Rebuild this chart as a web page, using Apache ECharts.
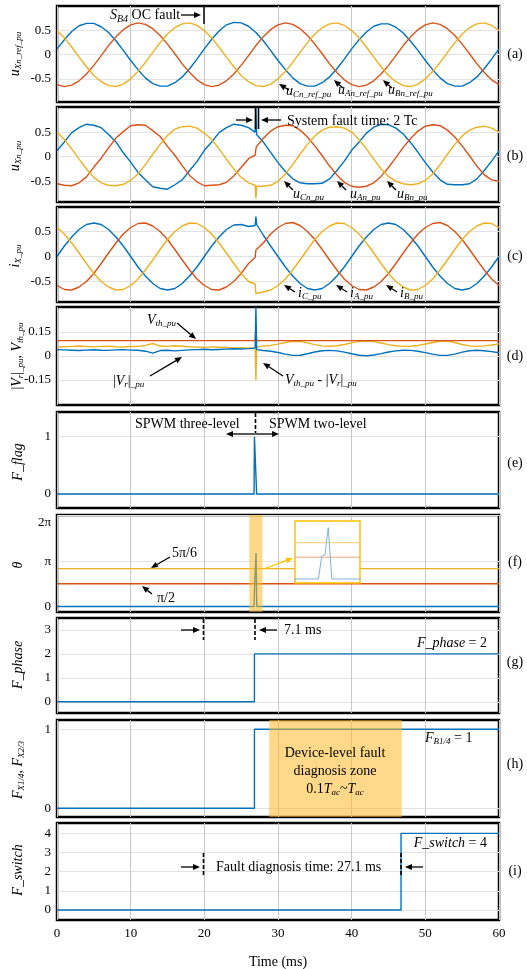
<!DOCTYPE html>
<html><head><meta charset="utf-8">
<script src="https://cdn.jsdelivr.net/npm/echarts@6.0.0/dist/echarts.min.js"></script>
<style>html,body{margin:0;padding:0;background:#fff}#c{width:527px;height:969px}</style>
</head><body><div id="c"></div>
<script>
// ---------------- DATA ----------------
const tA = [0,1,2,3,4,5,6,7,8,9,10,11,12,13,14,15,16,17,18,19,20,21,22,23,24,25,26,27,28,29,30,31,32,33,34,35,36,37,38,39,40,41,42,43,44,45,46,47,48,49,50,51,52,53,54,55,56,57,58,59,60];
const tF = [0,1,2,3,4,5,6,7,8,9,10,11,12,13,14,15,16,17,18,19,20,21,22,23,24,25,26,26.9,27,27.1,28,29,30,31,32,33,34,35,36,37,38,39,40,41,42,43,44,45,46,47,48,49,50,51,52,53,54,55,56,57,58,59,60];

// (a) reference voltages
const uA_ref = [0.12,0.31,0.48,0.60,0.65,0.65,0.58,0.46,0.29,0.09,-0.12,-0.31,-0.48,-0.60,-0.65,-0.65,-0.58,-0.46,-0.29,-0.09,
0.12,0.32,0.49,0.62,0.67,0.66,0.59,0.46,0.29,0.09,-0.12,-0.31,-0.48,-0.60,-0.65,-0.65,-0.58,-0.46,-0.29,-0.09,
0.12,0.31,0.47,0.59,0.64,0.64,0.57,0.45,0.28,0.09,-0.12,-0.31,-0.48,-0.60,-0.65,-0.65,-0.58,-0.46,-0.29,-0.09,0.12];
const uB_ref = [-0.62,-0.66,-0.63,-0.54,-0.40,-0.22,-0.02,0.19,0.37,0.52,0.62,0.66,0.63,0.54,0.40,0.22,0.02,-0.19,-0.37,-0.52,
-0.62,-0.66,-0.63,-0.54,-0.40,-0.22,-0.02,0.19,0.37,0.52,0.62,0.66,0.63,0.54,0.40,0.22,0.02,-0.19,-0.37,-0.52,
-0.62,-0.66,-0.63,-0.54,-0.40,-0.22,-0.02,0.19,0.37,0.52,0.62,0.66,0.63,0.54,0.40,0.22,0.02,-0.19,-0.37,-0.52,-0.62];
const uC_ref = [0.50,0.35,0.16,-0.05,-0.25,-0.43,-0.56,-0.64,-0.66,-0.61,-0.50,-0.35,-0.16,0.05,0.25,0.43,0.56,0.64,0.66,0.61,
0.50,0.35,0.16,-0.05,-0.25,-0.43,-0.56,-0.64,-0.66,-0.61,-0.50,-0.35,-0.16,0.05,0.25,0.43,0.56,0.64,0.66,0.61,
0.50,0.35,0.16,-0.05,-0.25,-0.43,-0.56,-0.64,-0.66,-0.61,-0.50,-0.35,-0.16,0.05,0.25,0.43,0.56,0.64,0.66,0.61,0.50];

// (b) phase voltages (on tF)
const uA = [0.12,0.30,0.49,0.59,0.66,0.64,0.59,0.45,0.30,0.08,-0.11,-0.32,-0.47,-0.61,-0.64,-0.66,-0.57,-0.47,-0.28,-0.10,0.13,0.30,0.49,0.59,0.66,0.64,0.59,
0.50,0.97,0.45,
0.30,0.09,-0.12,-0.30,-0.45,-0.53,-0.55,-0.55,-0.54,-0.45,-0.28,-0.09,0.13,0.30,0.48,0.60,0.66,0.65,0.58,0.46,0.29,0.09,-0.12,-0.31,-0.47,-0.56,-0.57,-0.57,-0.55,-0.45,-0.28,-0.09,0.12];
const uB = [-0.55,-0.58,-0.59,-0.53,-0.41,-0.21,-0.03,0.18,0.38,0.51,0.63,0.65,0.64,0.53,0.41,0.21,0.03,-0.18,-0.38,-0.51,-0.59,-0.58,-0.57,-0.52,-0.39,-0.22,-0.04,
0.03,0.16,0.21,
0.37,0.52,0.61,0.64,0.63,0.54,0.40,0.22,0.02,-0.19,-0.37,-0.52,-0.60,-0.62,-0.60,-0.53,-0.40,-0.22,-0.02,0.19,0.37,0.52,0.62,0.65,0.63,0.54,0.40,0.22,0.02,-0.19,-0.37,-0.47,-0.50];
const uC = [0.50,0.35,0.16,-0.05,-0.25,-0.42,-0.53,-0.58,-0.59,-0.56,-0.48,-0.35,-0.16,0.05,0.25,0.43,0.56,0.61,0.62,0.58,0.48,0.35,0.16,-0.05,-0.25,-0.42,-0.53,
-0.58,-0.85,-0.60,
-0.60,-0.58,-0.50,-0.35,-0.16,0.05,0.25,0.42,0.54,0.60,0.61,0.58,0.50,0.35,0.16,-0.05,-0.25,-0.40,-0.50,-0.55,-0.57,-0.55,-0.48,-0.35,-0.16,0.05,0.25,0.42,0.54,0.60,0.62,0.58,0.50];

// (c) phase currents (on tF)
const iA = [0.00,0.21,0.39,0.54,0.64,0.67,0.64,0.54,0.39,0.21,0.00,-0.21,-0.39,-0.54,-0.64,-0.67,-0.64,-0.54,-0.39,-0.21,0.00,0.21,0.39,0.54,0.63,0.64,0.60,
0.62,0.80,0.64,
0.43,0.21,0.00,-0.21,-0.39,-0.54,-0.64,-0.67,-0.64,-0.54,-0.39,-0.21,0.00,0.21,0.39,0.54,0.64,0.67,0.64,0.54,0.39,0.21,0.00,-0.21,-0.39,-0.54,-0.64,-0.67,-0.64,-0.54,-0.39,-0.21,0.00];
const iB = [-0.58,-0.66,-0.67,-0.61,-0.50,-0.34,-0.14,0.07,0.27,0.45,0.58,0.66,0.67,0.61,0.50,0.34,0.14,-0.07,-0.27,-0.45,-0.58,-0.66,-0.67,-0.61,-0.50,-0.34,-0.14,
-0.02,0.13,0.17,
0.27,0.45,0.58,0.66,0.68,0.62,0.50,0.34,0.14,-0.07,-0.27,-0.45,-0.58,-0.66,-0.67,-0.61,-0.50,-0.34,-0.14,0.07,0.27,0.45,0.58,0.66,0.68,0.62,0.50,0.34,0.14,-0.07,-0.27,-0.45,-0.58];
const iC = [0.58,0.45,0.27,0.07,-0.14,-0.34,-0.50,-0.61,-0.67,-0.66,-0.58,-0.45,-0.27,-0.07,0.14,0.34,0.50,0.61,0.67,0.66,0.58,0.45,0.27,0.07,-0.14,-0.34,-0.50,
-0.55,-0.74,-0.72,
-0.71,-0.67,-0.58,-0.45,-0.27,-0.07,0.14,0.34,0.50,0.61,0.67,0.66,0.58,0.45,0.27,0.07,-0.14,-0.34,-0.50,-0.61,-0.67,-0.66,-0.58,-0.45,-0.27,-0.07,0.14,0.34,0.50,0.61,0.67,0.66,0.58];

// (d) |Vr|_pu, V_th_pu, V_th_pu - |Vr|_pu
const Vr = [0.040,0.038,0.036,0.034,0.037,0.039,0.036,0.035,0.038,0.040,0.037,0.036,0.030,0.018,0.034,0.036,0.032,0.035,0.038,0.040,0.042,0.039,0.041,0.043,0.045,0.044,0.046,
0.050,0.306,0.040,
0.034,0.030,0.022,0.012,0.004,0.005,0.014,0.025,0.033,0.035,0.032,0.024,0.014,0.005,0.002,0.006,0.015,0.025,0.032,0.036,0.035,0.030,0.021,0.012,0.004,0.004,0.012,0.024,0.033,0.036,0.033,0.027,0.020];
const Vdiff = [0.056,0.058,0.060,0.062,0.059,0.057,0.060,0.061,0.058,0.056,0.059,0.060,0.066,0.078,0.062,0.060,0.064,0.061,0.058,0.056,0.054,0.057,0.055,0.053,0.051,0.052,0.050,
0.046,-0.150,0.056,
0.062,0.066,0.074,0.084,0.092,0.091,0.082,0.071,0.063,0.061,0.064,0.072,0.082,0.091,0.094,0.090,0.081,0.071,0.064,0.060,0.061,0.066,0.075,0.084,0.092,0.092,0.084,0.072,0.063,0.060,0.063,0.069,0.076];
const tVth = [0,26.9,27,27.1,60];
const Vth = [0.096,0.096,0.18,0.096,0.096];

// (e) F_flag
const tFlag = [0,26.75,26.8,27.05,27.1,60];
const Fflag = [0,0,1,1,0,0];

// (f) theta
const tThetaBlue = [0,26.75,26.84,26.93,27.02,27.12,60];
const thetaBlue = [0,0,1.66,1.75,3.7,0,0];
const tTheta = [0,60];
const thetaPi2 = [Math.PI/2, Math.PI/2];
const theta5Pi6 = [5*Math.PI/6, 5*Math.PI/6];
const bandF = [26.1,27.9];

// (g) F_phase
const tPhase = [0,26.8,26.8,60];
const Fphase = [0,0,2,2];
// (h) F_X1/4, F_X2/3
const tFx = [0,26.8,26.8,60];
const Fx = [0,0,1,1];
const zoneH = [28.8,46.8];
// (i) F_switch
const tSw = [0,46.7,46.7,60];
const Fsw = [0,0,4,4];

// ---------------- LAYOUT ----------------
const FONT = '"Liberation Serif","Times New Roman",serif';
const BLUE='#0072BD', RED='#D95319', YEL='#EDB120';
const P = (t,v)=>t.map((x,i)=>[x,v[i]]);

const G = [
 {top:6,  h:96, min:-0.98, max:1.01, ticks:[-0.5,0,0.5]},
 {top:107,h:95, min:-0.92, max:1.01, ticks:[-0.5,0,0.5]},
 {top:207,h:95, min:-0.91, max:0.99, ticks:[-0.5,0,0.5]},
 {top:307,h:98, min:-0.306,max:0.306,ticks:[-0.15,0,0.15]},
 {top:412,h:96, min:-0.245,max:1.43, ticks:[0,1]},
 {top:515,h:97, min:-0.38, max:6.33, ticks:[0,Math.PI,2*Math.PI]},
 {top:618,h:95, min:-0.47, max:3.5,  ticks:[0,1,2,3]},
 {top:720,h:97, min:-0.11, max:1.118,ticks:[0,1]},
 {top:823,h:97, min:-0.52, max:4.54, ticks:[0,1,2,3,4]}
];

const grids=[], xAxes=[], yAxes=[];
G.forEach((g,i)=>{
  grids.push({left:57,width:442,top:g.top,height:g.h,show:true,borderColor:'#000',borderWidth:2.5,backgroundColor:'#fff',outerBoundsMode:'none',containLabel:false});
  xAxes.push({gridIndex:i,type:'value',min:0,max:60,interval:10,
    axisLine:{show:false},axisTick:{show:false},
    axisLabel:{show:i===8,margin:7,fontFamily:FONT,fontSize:13,color:'#000'},
    splitLine:{show:true,lineStyle:{color:'#c8c8c8',width:1}},
    name:i===8?'Time (ms)':'',nameLocation:'middle',nameGap:35,
    nameTextStyle:{fontFamily:FONT,fontSize:14,color:'#000'}});
  let fmt;
  if(i===5) fmt = v => Math.abs(v)<1e-6?'0':(Math.abs(v-Math.PI)<1e-6?'π':'{lo|2π}');
  else if(i===3) fmt = v => v===0?'0':v.toFixed(2);
  else fmt = v => String(v);
  yAxes.push({gridIndex:i,type:'value',min:g.min,max:g.max,
    axisLine:{show:false},
    axisTick:{show:false,customValues:g.ticks},
    axisLabel:{customValues:g.ticks,margin:6,fontFamily:FONT,fontSize:13,color:'#000',formatter:fmt,
      rich:{lo:{padding:[14,0,0,0],fontFamily:FONT,fontSize:13,color:'#000'}}},
    splitLine:{show:true,lineStyle:{color:'#e2e2e2',width:1}}});
});
// inset grid
grids.push({left:295,top:521,width:65,height:62,show:false,outerBoundsMode:'none'});
xAxes.push({gridIndex:9,type:'value',min:bandF[0],max:bandF[1],show:false});
yAxes.push({gridIndex:9,type:'value',min:-0.29,max:4.18,show:false});

const L = (gi,data,color,extra)=>Object.assign({type:'line',xAxisIndex:gi,yAxisIndex:gi,data,symbol:'none',
  lineStyle:{color,width:1.4},itemStyle:{color},silent:true,z:2},extra||{});
const ZONE = 'rgba(255,185,40,0.55)';

const series = [
  L(0,P(tA,uA_ref),BLUE), L(0,P(tA,uB_ref),RED), L(0,P(tA,uC_ref),YEL),
  L(1,P(tF,uA),BLUE), L(1,P(tF,uB),RED), L(1,P(tF,uC),YEL),
  L(2,P(tF,iA),BLUE), L(2,P(tF,iB),RED), L(2,P(tF,iC),YEL),
  L(3,P(tF,Vdiff),YEL), L(3,P(tVth,Vth),RED), L(3,P(tF,Vr),BLUE),
  L(4,P(tFlag,Fflag),BLUE),
  L(5,P(tTheta,thetaPi2),RED), L(5,P(tTheta,theta5Pi6),YEL),
  L(5,P(tThetaBlue,thetaBlue),BLUE,{markArea:{z:5,silent:true,itemStyle:{color:ZONE},data:[[{xAxis:bandF[0]},{xAxis:bandF[1]}]]}}),
  L(6,P(tPhase,Fphase),BLUE),
  L(7,P(tFx,Fx),BLUE,{markArea:{z:5,silent:true,itemStyle:{color:ZONE},data:[[{xAxis:zoneH[0]},{xAxis:zoneH[1]}]]}}),
  L(8,P(tSw,Fsw),BLUE),
  // inset (zoom of the orange band in (f))
  L(9,P(bandF,[thetaPi2[0],thetaPi2[0]]),'#E8A47C',{z:101,lineStyle:{color:'#E8A47C',width:1}}),
  L(9,P(bandF,[theta5Pi6[0],theta5Pi6[0]]),'#F6CD72',{z:101,lineStyle:{color:'#F6CD72',width:1}}),
  L(9,P(tThetaBlue,thetaBlue),'#7DB4D4',{z:101,clip:true,lineStyle:{color:'#7DB4D4',width:1}})
];

// ---------------- ANNOTATIONS ----------------
const RICH = {
  n:{fontFamily:FONT,fontSize:13,color:'#000'},
  N:{fontFamily:FONT,fontSize:14,color:'#000'},
  i:{fontFamily:FONT,fontSize:14,fontStyle:'italic',color:'#000'},
  s:{fontFamily:FONT,fontSize:9,fontStyle:'italic',color:'#000',padding:[7,0,0,0]},
  S:{fontFamily:FONT,fontSize:10,fontStyle:'italic',color:'#000',padding:[8,0,0,0]}
};
const gr = [];
function txt(x,y,text,align,rot){
  gr.push({type:'text',x,y,z:60,rotation:rot||0,silent:true,
    style:{text,align:align||'left',verticalAlign:'middle',rich:RICH,font:'13px '+FONT,fill:'#000'}});
}
function seg(x1,y1,x2,y2,color,w,dash){
  gr.push({type:'line',z:60,silent:true,shape:{x1,y1,x2,y2},style:{stroke:color||'#000',lineWidth:w||1.3,lineDash:dash||null}});
}
function arrow(x1,y1,x2,y2,color){
  color=color||'#000';
  const a=Math.atan2(y2-y1,x2-x1), len=7, wd=3;
  const bx=x2-len*Math.cos(a), by=y2-len*Math.sin(a);
  const px=-Math.sin(a)*wd, py=Math.cos(a)*wd;
  seg(x1,y1,bx,by,color,1.3);
  gr.push({type:'polygon',z:60,silent:true,shape:{points:[[x2,y2],[bx+px,by+py],[bx-px,by-py]]},style:{fill:color}});
}

// y-axis names
txt(15,54,'{i|u}{s|Xn_ref_pu}','center',Math.PI/2);
txt(15,156,'{i|u}{s|Xn_pu}','center',Math.PI/2);
txt(15,256,'{i|i}{s|X_pu}','center',Math.PI/2);
txt(17,356,'{N||}{i|V}{s|r}{N||}{s|_pu}{N|, }{i|V}{s|th_pu}','center',Math.PI/2);
txt(18,462,'{i|F_flag}','center',Math.PI/2);
txt(18,565,'{i|θ}','center',Math.PI/2);
txt(18,665,'{i|F_phase}','center',Math.PI/2);
txt(18,770,'{i|F}{s|X1/4}{N|, }{i|F}{s|X2/3}','center',Math.PI/2);
txt(18,870,'{i|F_switch}','center',Math.PI/2);
// panel letters
[['(a)',54],['(b)',156],['(c)',256],['(d)',356],['(e)',463],['(f)',562],['(g)',662],['(h)',764],['(i)',871]]
  .forEach(([s,y])=>txt(515,y,'{N|'+s+'}','center'));

// (a)
txt(110,15,'{i|S}{S|B4}{N| OC fault}');
arrow(181,15,201,15);
seg(204,6,204,24,'#000',1.5);
txt(286,91,'{i|u}{s|Cn_ref_pu}'); arrow(289,90,279,84);
txt(338,90,'{i|u}{s|An_ref_pu}'); arrow(343,88,334,80);
txt(388,90,'{i|u}{s|Bn_ref_pu}'); arrow(392,88,383,80);
// (b)
seg(255.5,107,255.5,129,'#000',1.6); seg(258.5,107,258.5,129,'#000',1.6);
arrow(236,120,253,120); arrow(281,120,261,120);
txt(287,121,'{N|System fault time: 2 Tc}');
txt(293,194,'{i|u}{s|Cn_pu}'); arrow(293,190,284,181);
txt(350,194,'{i|u}{s|An_pu}'); arrow(346,190,337,181);
txt(397,194,'{i|u}{s|Bn_pu}'); arrow(396,190,387,181);
// (c)
txt(298,293,'{i|i}{s|C_pu}'); arrow(295,292,284,285);
txt(350,293,'{i|i}{s|A_pu}'); arrow(347,292,336,285);
txt(400,293,'{i|i}{s|B_pu}'); arrow(397,292,386,285);
// (d)
txt(147,320,'{i|V}{s|th_pu}'); arrow(177,323,196,339);
txt(113,381,'{N||}{i|V}{s|r}{N||}{s|_pu}'); arrow(150,376,182,357);
txt(285,380,'{i|V}{s|th_pu}{N| - |}{i|V}{s|r}{N||}{s|_pu}'); arrow(283,376,263,363);
// (e)
seg(255.5,413,255.5,433,'#000',1.6,[4,2]);
arrow(255.5,434,226,434); arrow(255.5,434,279,434);
txt(135,424,'{N|SPWM three-level}'); txt(269,424,'{N|SPWM two-level}');
// (f)
txt(172,553,'{N|5π/6}'); arrow(170,557,151,568);
txt(157,598,'{N|π/2}'); arrow(152,594,142,586);
arrow(264,569,293,558,'#FFC000');
gr.push({type:'rect',z:100,silent:true,shape:{x:295,y:521,width:65,height:62},style:{fill:'#fff',stroke:'#FFC000',lineWidth:1.5}});
// (g)
seg(203.5,619,203.5,640,'#000',1.6,[4,2]); seg(255,619,255,640,'#000',1.6,[4,2]);
arrow(181,630,200,630); arrow(277,630,259,630);
txt(284,630,'{N|7.1 ms}');
txt(487,643,'{i|F_phase}{N| = 2}','right');
// (h)
txt(335,753,'{N|Device-level fault}','center');
txt(335,771,'{N|diagnosis zone}','center');
txt(335,789,'{N|0.1}{i|T}{s|ac}{N|~}{i|T}{s|ac}','center');
txt(425,738,'{i|F}{s|B1/4}{N| = 1}');
// (i)
txt(487,843,'{i|F_switch}{N| = 4}','right');
seg(203.5,853,203.5,875,'#000',1.6,[4,2]); seg(401,853,401,875,'#000',1.6,[4,2]);
arrow(181,867,200,867); arrow(423,867,405,867);
txt(216,867,'{N|Fault diagnosis time: 27.1 ms}');

const chart = echarts.init(document.getElementById('c'),null,{renderer:'canvas'});
chart.setOption({animation:false,backgroundColor:'#fff',grid:grids,xAxis:xAxes,yAxis:yAxes,series,graphic:{elements:gr}});
</script></body></html>
